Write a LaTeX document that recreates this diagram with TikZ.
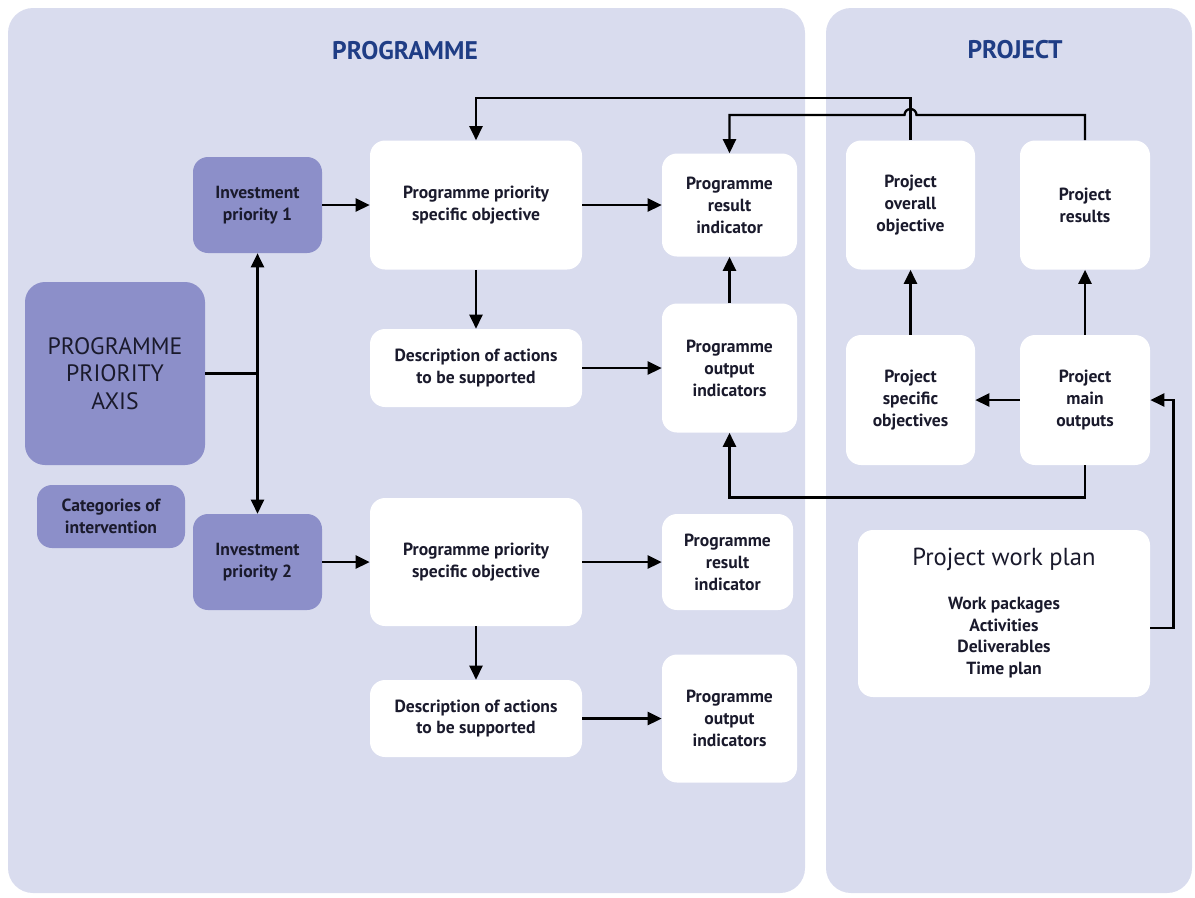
\documentclass[tikz,border=0pt]{standalone}
\usepackage{fontspec}
\setmainfont{PT Sans}
\usepackage{tikz}
\usetikzlibrary{arrows.meta,positioning,calc}
\definecolor{panelbg}{HTML}{D9DCEE}
\definecolor{prioritybg}{HTML}{8C8FC9}
\definecolor{titleblue}{HTML}{1F3D85}
\definecolor{inkdark}{HTML}{1A1A2C}

\begin{document}
\begin{tikzpicture}[
    panel/.style={fill=panelbg, rounded corners=0.5cm},
    wbox/.style={fill=white, rounded corners=0.3cm, align=center, font=\fontsize{10}{12.5}\selectfont\bfseries, text=inkdark, inner sep=2pt},
    pbox/.style={wbox, fill=prioritybg},
    title/.style={font=\fontsize{14.5}{16}\selectfont\bfseries, text=titleblue},
    arrow/.style={-{Triangle[length=8pt,width=7.5pt]}, line width=1.3pt, color=black},
    link/.style={line width=1.3pt, color=black},
]
\useasboundingbox (0,0) rectangle (23.9,-17.94);
% panels
\fill[panel] (0.16,-0.16) rectangle (16.10,-17.86);
\fill[panel] (16.52,-0.16) rectangle (23.84,-17.86);
\node[title] (tprog) at (8.10,-1.02) {PROGRAMME};
\node[title] (tproj) at (20.30,-1.00) {PROJECT};

% programme side
\node[pbox, minimum width=3.60cm, minimum height=3.66cm, rounded corners=0.4cm, font=\fontsize{13.5}{15.5}\selectfont\mdseries] (axis) at (2.30,-7.47) {PROGRAMME\\PRIORITY\\AXIS};
\node[pbox, minimum width=2.96cm, minimum height=1.26cm] (cat) at (2.22,-10.33) {Categories of\\intervention};
\node[pbox, minimum width=2.58cm, minimum height=1.92cm] (ip1) at (5.15,-4.10) {Investment\\priority 1};
\node[pbox, minimum width=2.58cm, minimum height=1.92cm] (ip2) at (5.15,-11.24) {Investment\\priority 2};

\node[wbox, minimum width=4.24cm, minimum height=2.58cm] (pso1) at (9.52,-4.10) {Programme priority\\specific objective};
\node[wbox, minimum width=4.24cm, minimum height=1.56cm] (dsc1) at (9.52,-7.36) {Description of actions\\to be supported};
\node[wbox, minimum width=2.70cm, minimum height=2.06cm] (pri1) at (14.59,-4.10) {Programme\\result\\indicator};
\node[wbox, minimum width=2.70cm, minimum height=2.58cm] (poi1) at (14.59,-7.36) {Programme\\output\\indicators};

\node[wbox, minimum width=4.24cm, minimum height=2.56cm] (pso2) at (9.52,-11.24) {Programme priority\\specific objective};
\node[wbox, minimum width=4.24cm, minimum height=1.54cm] (dsc2) at (9.52,-14.37) {Description of actions\\to be supported};
\node[wbox, minimum width=2.62cm, minimum height=1.92cm] (pri2) at (14.55,-11.24) {Programme\\result\\indicator};
\node[wbox, minimum width=2.70cm, minimum height=2.56cm] (poi2) at (14.59,-14.37) {Programme\\output\\indicators};

% project side
\node[wbox, minimum width=2.58cm, minimum height=2.58cm] (poo) at (18.21,-4.10) {Project\\overall\\objective};
\node[wbox, minimum width=2.60cm, minimum height=2.58cm] (pres) at (21.70,-4.10) {Project\\results};
\node[wbox, minimum width=2.58cm, minimum height=2.60cm] (psob) at (18.21,-8.00) {Project\\specific\\objectives};
\node[wbox, minimum width=2.60cm, minimum height=2.60cm] (pmo) at (21.70,-8.00) {Project\\main\\outputs};
\node[wbox, minimum width=5.84cm, minimum height=3.34cm] (wp) at (20.08,-12.27) {{\fontsize{14}{16}\selectfont\mdseries Project work plan}\\[12pt]Work packages\\Activities\\Deliverables\\Time plan};

% connectors
\draw[link] (axis.east) -- (axis.east -| ip1);
\draw[arrow, {Triangle[length=8pt,width=7.5pt]}-{Triangle[length=8pt,width=7.5pt]}] (ip1.south) -- (ip2.north);
\draw[arrow] (ip1) -- (pso1);
\draw[arrow] (ip2) -- (pso2);
\draw[arrow] (pso1) -- (pri1);
\draw[arrow] (pso2) -- (pri2);
\draw[arrow] (pso1) -- (dsc1);
\draw[arrow] (pso2) -- (dsc2);
\draw[arrow] (dsc1) -- (poi1);
\draw[arrow] (dsc2.east) -- (dsc2.east -| poi2.west);
\draw[arrow] (poi1) -- (pri1);

\coordinate (lvl1) at (0,-1.96);
\coordinate (lvl2) at (0,-2.30);
\draw[arrow] (poo.north) -- (poo.north |- lvl1) -| (pso1.north);
\draw[arrow] (pres.north) -- (pres.north |- lvl2) -- ([xshift=0.12cm]poo.north |- lvl2)
    arc[start angle=0, end angle=180, radius=0.12cm] -- (pri1.north |- lvl2) -- (pri1.north);

\draw[arrow] (psob) -- (poo);
\draw[arrow] (pmo) -- (pres);
\draw[arrow] (pmo) -- (psob);
\draw[arrow] (pmo.south) -- ++(0,-0.64) -| (poi1.south);
\draw[arrow] ([yshift=-0.29cm]wp.east) -- ++(0.46,0) |- (pmo.east);
\end{tikzpicture}
\end{document}
